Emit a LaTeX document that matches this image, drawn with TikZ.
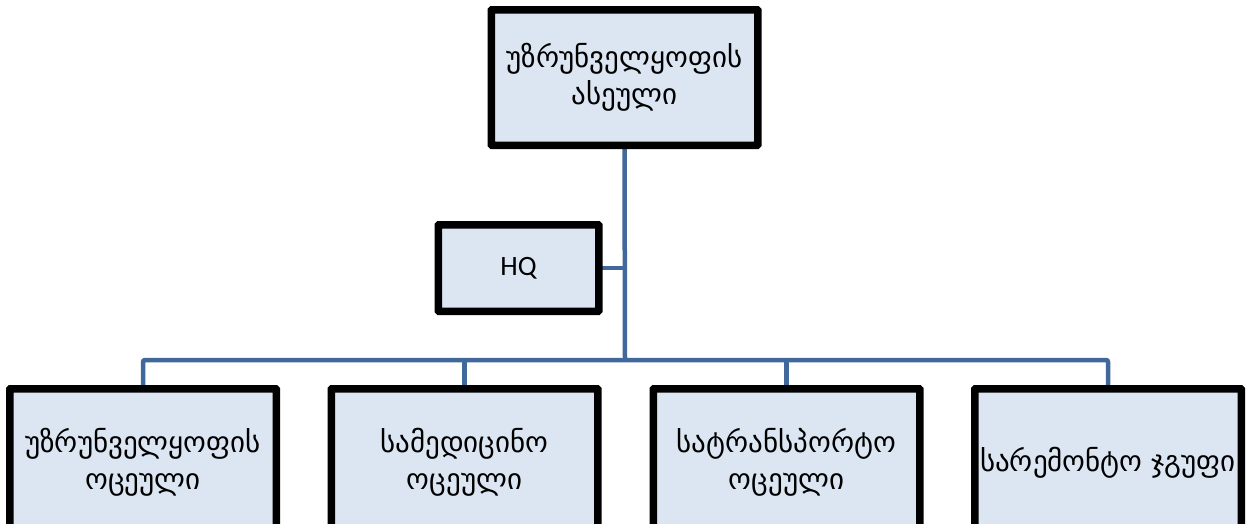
\documentclass[tikz,border=0pt]{standalone}
\usepackage{fontspec}
\newfontfamily\geofont{DejaVu Sans}
\newfontfamily\latfont{Carlito}
\definecolor{boxfill}{HTML}{DCE6F2}
\definecolor{linkblue}{HTML}{41689A}
\begin{document}
\begin{tikzpicture}[x=1pt,y=-1pt,
  unit/.style={draw=black,line width=5pt,fill=boxfill,rounded corners=1.5pt,
    minimum width=264pt,minimum height=133pt,align=center,inner sep=0pt,
    font=\geofont\fontsize{29}{37}\selectfont},
  link/.style={draw=linkblue,line width=4.5pt}]
\clip (0,0) rectangle (1253,523);
\useasboundingbox (0,0) rectangle (1253,523);
\fill[white] (0,0) rectangle (1253,523);
% command structure
\node[unit] (top) at (624.5,77.5) {უზრუნველყოფის\\ასეული};
\node[unit,minimum width=158pt,minimum height=84pt,font=\latfont\fontsize{28}{32}\selectfont] (hq) at (518.5,268) {HQ};
\node[unit,minimum height=145pt] (b1) at (143,462.5) {უზრუნველყოფის\\ოცეული};
\node[unit,minimum height=145pt] (b2) at (464.5,462.5) {სამედიცინო\\ოცეული};
\node[unit,minimum height=145pt] (b3) at (786.5,462.5) {სატრანსპორტო\\ოცეული};
\node[unit,minimum height=145pt] (b4) at (1108,462.5) {სარემონტო ჯგუფი};
\coordinate (bus) at (625,360);
% connectors
\draw[link] (top.south) -- (bus);
\draw[link] (hq.east) -- (hq.east -| top.south);
\draw[link,rounded corners=2pt] (b1.north) |- (bus) -| (b4.north);
\draw[link] (bus -| b2.north) -- (b2.north);
\draw[link] (bus -| b3.north) -- (b3.north);
% box outlines drawn again over the connector ends
\foreach \n in {top,hq,b1,b2,b3,b4}
  \draw[black,line width=5pt,rounded corners=1.5pt] (\n.north west) rectangle (\n.south east);
\end{tikzpicture}
\end{document}
